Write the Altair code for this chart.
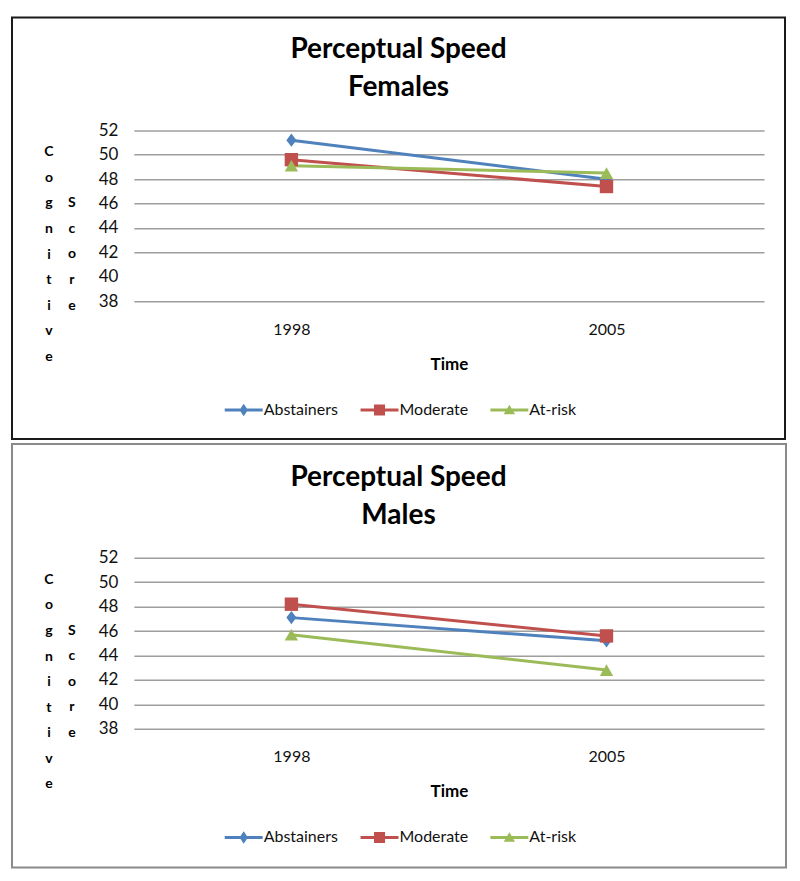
import altair as alt
import pandas as pd

# ---- data ----
years = ["1998", "2005"]
groups = ["Abstainers", "Moderate", "At-risk"]
female_abstainers = [51.2, 48.0]
female_moderate = [49.6, 47.4]
female_atrisk = [49.1, 48.5]
male_abstainers = [47.1, 45.2]
male_moderate = [48.2, 45.6]
male_atrisk = [45.7, 42.8]
y_ticks = [38, 40, 42, 44, 46, 48, 50, 52]
colors = ["#4F81BD", "#C0504D", "#9BBB59"]

FONT = "Lato"
W, H = 631, 171

point_shapes = ["M0,-1L0.75,0L0,1L-0.75,0Z", "square", "triangle-up"]
LINE = "M-1,-0.08H1V0.08H-1Z"
legend_shapes = [
    LINE + "M0,-0.33L0.22,0L0,0.33L-0.22,0Z",
    LINE + "M-0.29,-0.29H0.29V0.29H-0.29Z",
    LINE + "M0,-0.28L0.3,0.22H-0.3Z",
]


def make_df(series_list):
    rows = []
    for g, vals in zip(groups, series_list):
        for yr, v in zip(years, vals):
            rows.append({"Time": yr, "Group": g, "Score": v})
    return pd.DataFrame(rows)


def panel(df, subtitle, box_color, box, hide40):
    grid_color = "#9e9e9e"
    if hide40:
        grid_color = {"condition": {"test": "datum.value === 40", "value": "transparent"},
                      "value": "#9e9e9e"}
    x = alt.X("Time:O",
              scale=alt.Scale(type="point", padding=0.5, domain=years),
              axis=alt.Axis(title="Time", labelAngle=0, domain=False, ticks=False, grid=False,
                            labelFontSize=16, labelPadding=20, labelFont=FONT, labelColor="#111",
                            titleFontSize=17, titleFontWeight="bold", titleFont=FONT,
                            titleColor="#000", titlePadding=19))
    y = alt.Y("Score:Q",
              scale=alt.Scale(domain=[38, 52], nice=False, zero=False),
              axis=alt.Axis(title=None, values=y_ticks, domain=False, ticks=False, grid=True,
                            gridColor=grid_color, gridWidth=1.5,
                            labelFontSize=17, labelPadding=16, labelFont=FONT, labelColor="#111"))
    cscale = alt.Scale(domain=groups, range=colors)
    one = alt.Data(values=[{}])

    border = alt.Chart(one).mark_rect(fill="transparent", stroke=box_color, strokeWidth=2).encode(
        x=alt.value(box[0]), x2=alt.value(box[1]), y=alt.value(box[2]), y2=alt.value(box[3]))
    title = alt.Chart(one).mark_text(
        text=["Perceptual Speed", subtitle], fontSize=28, fontWeight="bold", font=FONT,
        lineHeight=38, align="center", baseline="alphabetic", color="#000"
    ).encode(x=alt.value(265), y=alt.value(-72))
    cog = alt.Chart(one).mark_text(
        text=list("Cognitive"), fontSize=14, fontWeight="bold", font=FONT,
        lineHeight=25.6, align="center", baseline="alphabetic", color="#000"
    ).encode(x=alt.value(-85), y=alt.value(26))
    score = alt.Chart(one).mark_text(
        text=list("Score"), fontSize=14, fontWeight="bold", font=FONT,
        lineHeight=25.6, align="center", baseline="alphabetic", color="#000"
    ).encode(x=alt.value(-62), y=alt.value(77))

    base = alt.Chart(df)
    lines = base.mark_line(strokeWidth=3).encode(
        x=x, y=y, color=alt.Color("Group:N", scale=cscale, legend=None))
    pts = base.mark_point(filled=True, size=180, opacity=1).encode(
        x=x, y=y, color=alt.Color("Group:N", scale=cscale, legend=None),
        shape=alt.Shape("Group:N", scale=alt.Scale(domain=groups, range=point_shapes), legend=None))
    leg = alt.Legend(orient="none", legendX=91, legendY=261, direction="horizontal", columns=3,
                     title=None, labelFontSize=16, labelFont=FONT, labelColor="#111",
                     labelOffset=1, columnPadding=22, symbolSize=1444, symbolStrokeWidth=0,
                     symbolOpacity=1, padding=0)
    legend_layer = base.mark_point(filled=True, size=1444, opacity=1).transform_filter("false").encode(
        x=x, y=y,
        color=alt.Color("Group:N", scale=cscale, legend=leg),
        shape=alt.Shape("Group:N", scale=alt.Scale(domain=groups, range=legend_shapes), legend=leg))

    return alt.layer(border, title, cog, score, lines, pts, legend_layer).resolve_scale(
        color="independent", shape="independent").properties(width=W, height=H)


female = panel(make_df([female_abstainers, female_moderate, female_atrisk]), "Females",
               "#1a1a1a", (-122, 652, -113, 309), True)
male = panel(make_df([male_abstainers, male_moderate, male_atrisk]), "Males",
             "#8a8a8a", (-122, 653, -114, 310), False)

chart = alt.vconcat(female, male, spacing=3).properties(
    padding={"left": 3, "top": 8, "right": 5, "bottom": 5}, background="white"
).configure_view(stroke=None)

chart.save("out.html", embed_options={"renderer": "svg", "actions": False})
